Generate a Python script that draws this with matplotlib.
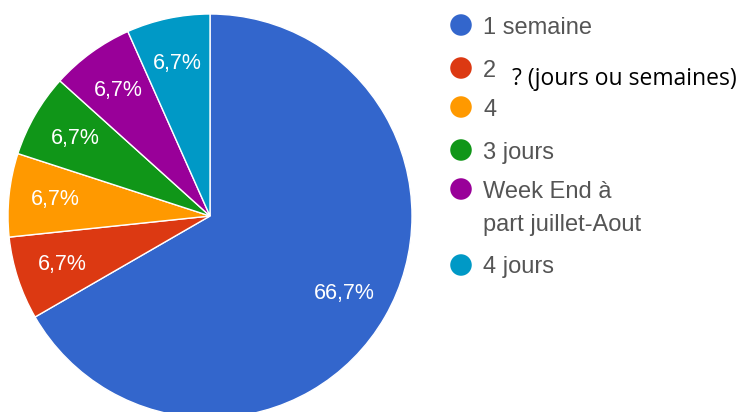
import matplotlib
matplotlib.use("Agg")
from matplotlib import pyplot as plt

labels = ["1 semaine", "2", "4", "3 jours", "Week End à\npart juillet-Aout", "4 jours"]
counts = [10, 1, 1, 1, 1, 1]  # 66,7% / 6,7% each
colors = ["#3366cc", "#dc3912", "#ff9900", "#109618", "#990099", "#0099c6"]
overlay_text = "? (jours ou semaines)"

W, H = 744, 412
fig = plt.figure(figsize=(W / 100, H / 100), dpi=100)

# pie: centre (210, 216) px, radius 202 px
cx, cy, r = 210, 216, 202
ax = fig.add_axes([(cx - r) / W, (H - cy - r) / H, 2 * r / W, 2 * r / H])
wedges, texts, autotexts = ax.pie(
    counts, colors=colors, startangle=90, counterclock=False,
    autopct=lambda p: f"{p:.1f}%".replace(".", ","), pctdistance=0.77,
    wedgeprops=dict(edgecolor="white", linewidth=1),
    textprops=dict(color="white", fontsize=15.5, family="Liberation Sans"))
ax.set_xlim(-1, 1)
ax.set_ylim(-1, 1)
ax.set_aspect("equal")
ax.axis("off")

# legend drawn on a pixel-space overlay
lg = fig.add_axes([0, 0, 1, 1])
lg.set_xlim(0, W)
lg.set_ylim(H, 0)
lg.axis("off")
rows = [25, 68, 107, 150, 189, 265]
for lab, col, y in zip(labels, colors, rows):
    lg.scatter([461], [y], s=240, color=col, edgecolors="none")
    for i, line in enumerate(lab.split("\n")):
        lg.text(483, y + i * 33, line, fontsize=17, color="#555555",
                family="Liberation Sans", va="center_baseline", ha="left")

lg.text(512, 79, overlay_text, fontsize=16.5, color="black", family="Open Sans",
        va="center", ha="left")

fig.savefig("out.png", dpi=100)
